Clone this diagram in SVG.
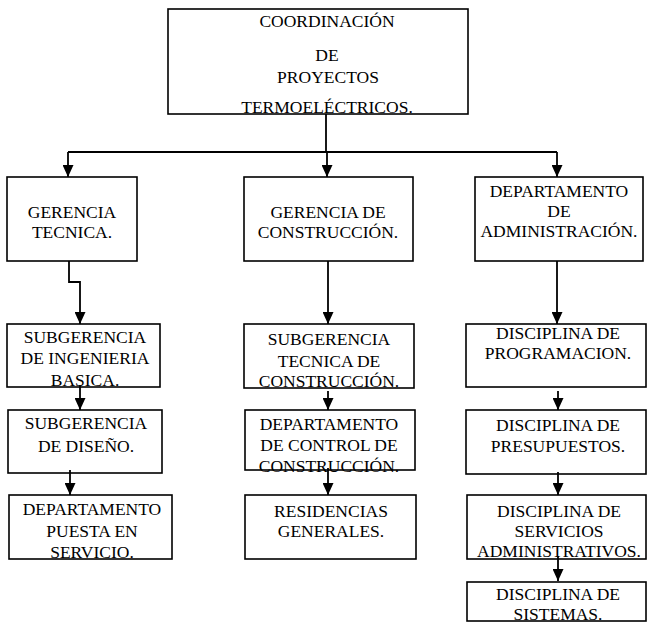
<svg xmlns="http://www.w3.org/2000/svg" width="650" height="623" viewBox="0 0 650 623">
<style>
  .box { fill: none; stroke: #000; stroke-width: 1.6; }
  .t { font-family: "Liberation Serif", "Times New Roman", serif; font-size: 17.5px; fill: #000; text-anchor: middle; }
  .c { fill: none; stroke: #000; stroke-width: 1.8; }
</style>
<defs>
  <marker id="ah" markerWidth="12" markerHeight="11" refX="12" refY="5.5" orient="auto" markerUnits="userSpaceOnUse">
    <path d="M0,0 L12,5.5 L0,11 z" fill="#000"/>
  </marker>
</defs>
<rect width="650" height="623" fill="#fff"/>

<g id="connectors">
  <path class="c" d="M326,114 V152"/>
  <path class="c" d="M68,152 H557"/>
  <path class="c" d="M68,152 V177" marker-end="url(#ah)"/>
  <path class="c" d="M327,152 V177" marker-end="url(#ah)"/>
  <path class="c" d="M557,152 V177" marker-end="url(#ah)"/>
  <path class="c" d="M69,261 V282 H80 V324" marker-end="url(#ah)"/>
  <path class="c" d="M80,385 V410" marker-end="url(#ah)"/>
  <path class="c" d="M70,470 V495" marker-end="url(#ah)"/>
  <path class="c" d="M328,261 V324" marker-end="url(#ah)"/>
  <path class="c" d="M328,391 V410" marker-end="url(#ah)"/>
  <path class="c" d="M328,468 V495" marker-end="url(#ah)"/>
  <path class="c" d="M557,261 V324" marker-end="url(#ah)"/>
  <path class="c" d="M558,391 V410" marker-end="url(#ah)"/>
  <path class="c" d="M558,472 V495" marker-end="url(#ah)"/>
  <path class="c" d="M558,556 V581" marker-end="url(#ah)"/>
</g>

<g id="coordinacion">
  <rect class="box" x="168" y="9" width="300" height="105"/>
  <text class="t" x="327" y="27">COORDINACIÓN</text>
  <text class="t" x="327" y="61">DE</text>
  <text class="t" x="328" y="83">PROYECTOS</text>
  <text class="t" x="327" y="113">TERMOELÉCTRICOS.</text>
</g>

<g id="gerencia-tecnica">
  <rect class="box" x="7" y="177" width="130" height="84"/>
  <text class="t" x="72" y="218">GERENCIA</text>
  <text class="t" x="72" y="238">TECNICA.</text>
</g>

<g id="gerencia-construccion">
  <rect class="box" x="244" y="177" width="169" height="84"/>
  <text class="t" x="328" y="218">GERENCIA DE</text>
  <text class="t" x="328" y="238">CONSTRUCCIÓN.</text>
</g>

<g id="departamento-administracion">
  <rect class="box" x="475" y="177" width="168" height="84"/>
  <text class="t" x="559" y="197">DEPARTAMENTO</text>
  <text class="t" x="559" y="217">DE</text>
  <text class="t" x="559" y="237">ADMINISTRACIÓN.</text>
</g>

<g id="subgerencia-ingenieria">
  <rect class="box" x="7" y="324" width="153" height="63"/>
  <text class="t" x="85" y="343">SUBGERENCIA</text>
  <text class="t" x="85" y="364">DE INGENIERIA</text>
  <text class="t" x="85" y="386">BASICA.</text>
</g>

<g id="subgerencia-diseno">
  <rect class="box" x="8" y="410" width="154" height="63"/>
  <text class="t" x="86" y="429">SUBGERENCIA</text>
  <text class="t" x="86" y="452">DE DISEÑO.</text>
</g>

<g id="departamento-puesta">
  <rect class="box" x="9" y="495" width="163" height="64"/>
  <text class="t" x="92" y="515">DEPARTAMENTO</text>
  <text class="t" x="92" y="537">PUESTA EN</text>
  <text class="t" x="92" y="558">SERVICIO.</text>
</g>

<g id="subgerencia-tecnica">
  <rect class="box" x="244" y="324" width="170" height="64"/>
  <text class="t" x="329" y="345">SUBGERENCIA</text>
  <text class="t" x="329" y="367">TECNICA DE</text>
  <text class="t" x="329" y="387">CONSTRUCCIÓN.</text>
</g>

<g id="departamento-control">
  <rect class="box" x="245" y="410" width="170" height="60"/>
  <text class="t" x="329" y="430">DEPARTAMENTO</text>
  <text class="t" x="329" y="451">DE CONTROL DE</text>
  <text class="t" x="329" y="472">CONSTRUCCIÓN.</text>
</g>

<g id="residencias">
  <rect class="box" x="245" y="495" width="171" height="64"/>
  <text class="t" x="331" y="517">RESIDENCIAS</text>
  <text class="t" x="331" y="537">GENERALES.</text>
</g>

<g id="disciplina-programacion">
  <rect class="box" x="466" y="324" width="180" height="63"/>
  <text class="t" x="558" y="339">DISCIPLINA DE</text>
  <text class="t" x="558" y="359">PROGRAMACION.</text>
</g>

<g id="disciplina-presupuestos">
  <rect class="box" x="466" y="410" width="180" height="64"/>
  <text class="t" x="558" y="431">DISCIPLINA DE</text>
  <text class="t" x="558" y="452">PRESUPUESTOS.</text>
</g>

<g id="disciplina-servicios">
  <rect class="box" x="467" y="495" width="179" height="64"/>
  <text class="t" x="559" y="517">DISCIPLINA DE</text>
  <text class="t" x="559" y="537">SERVICIOS</text>
  <text class="t" x="559" y="557">ADMINISTRATIVOS.</text>
</g>

<g id="disciplina-sistemas">
  <rect class="box" x="467" y="582" width="179" height="39"/>
  <text class="t" x="558" y="600">DISCIPLINA DE</text>
  <text class="t" x="558" y="620">SISTEMAS.</text>
</g>
</svg>
